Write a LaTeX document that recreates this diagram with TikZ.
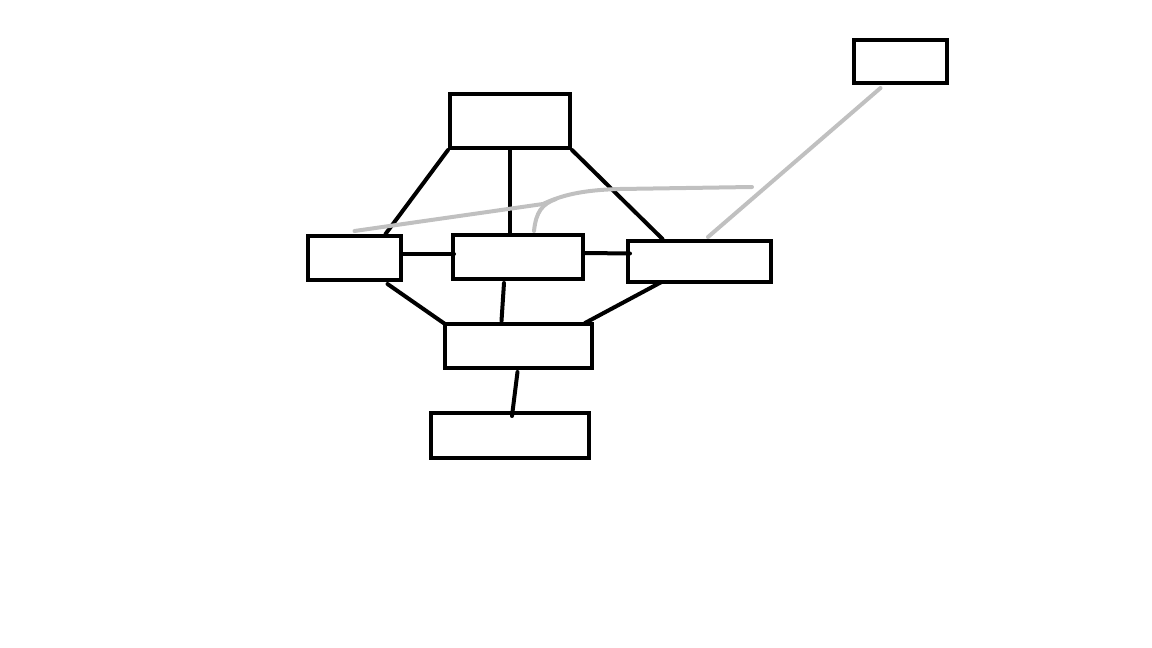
\documentclass[tikz,border=0pt]{standalone}
\usepackage{tikz}
\usetikzlibrary{calc}
\definecolor{abuline}{RGB}{192,192,192}

\begin{document}
\begin{tikzpicture}[x=0.03cm, y=-0.03cm,
        box/.style={draw=black, line width=0.12cm, inner sep=0pt},
        link/.style={draw=black, line width=0.12cm, line cap=round},
        glink/.style={draw=abuline, line width=0.12cm, line cap=round}]
        \useasboundingbox (0,0) rectangle (1152,648);
        \foreach \n/\cx/\cy/\w/\h in {top/510/121/120/54, left/354.5/258/93/44,
            middle/518/257/130/44, right/699.5/261.5/143/41, lower/518.5/346/147/44,
            bottom/510/435.5/158/45, far/900.5/61.5/93/43}
        {
            \node[box, minimum width=\w*0.03cm, minimum height=\h*0.03cm] (\n) at (\cx,\cy) {};
        }
        \coordinate (gend) at (752,187);
        % black links
        \draw[link] (top.south west) -- ($(left.north)+(31,0)$);
        \draw[link] ($(top.south)+(0,0)$) -- ($(middle.north)+(-8,0)$);
        \draw[link] (top.south east) -- ($(right.north)+(-37,0)$);
        \draw[link] ($(left.east)+(0,-4)$) -- ($(middle.west)+(3,-3)$);
        \draw[link] ($(middle.east)+(0,-4)$) -- ($(right.west)+(4,-8)$);
        \draw[link] ($(left.south)+(33,2)$) -- ($(lower.north west)+(2,2)$);
        \draw[link] ($(middle.south)+(-14,2)$) -- ($(lower.north)+(-17,-1)$);
        \draw[link] ($(right.south)+(-38,-2)$) -- ($(lower.north east)+(-9,1)$);
        \draw[link] ($(lower.south)+(-1,2)$) -- ($(bottom.north)+(2,5)$);
        % grey links
        \draw[glink] ($(far.south)+(-20,3)$) -- ($(right.north)+(8.5,-2)$);
        \draw[glink] ($(left.north)+(0,-3)$) -- (543,204)
            .. controls (560,196) and (580,190) .. (620,189) -- (gend);
        \draw[glink] ($(middle.north)+(16,-2)$) .. controls (536,212) and (542,204) .. (556,199);
    \end{tikzpicture}
\end{document}
